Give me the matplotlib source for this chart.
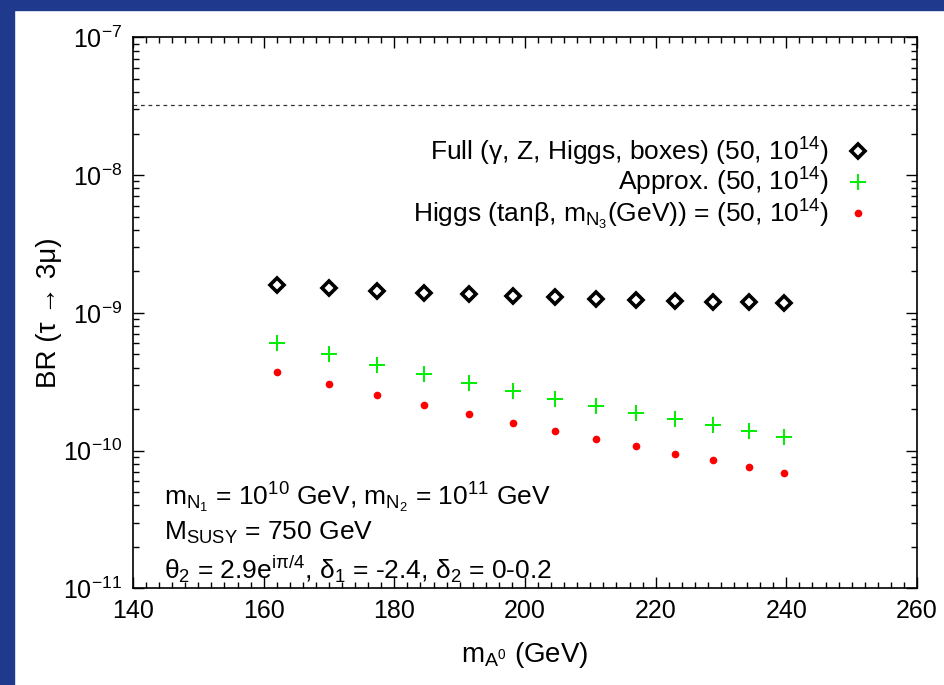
import matplotlib
matplotlib.use('Agg')
import matplotlib.pyplot as plt
from matplotlib.patches import Rectangle
from matplotlib.ticker import LogLocator, MultipleLocator, NullFormatter

# data
mA = [162.1, 170.0, 177.3, 184.5, 191.5, 198.2, 204.6, 210.9, 217.0, 222.9, 228.7, 234.3, 239.7]
br_full = [1.58e-9, 1.51e-9, 1.45e-9, 1.40e-9, 1.36e-9, 1.33e-9, 1.30e-9, 1.27e-9,
           1.245e-9, 1.225e-9, 1.205e-9, 1.19e-9, 1.17e-9]
br_approx = [6.0e-10, 5.0e-10, 4.2e-10, 3.58e-10, 3.08e-10, 2.69e-10, 2.38e-10, 2.1e-10,
             1.87e-10, 1.69e-10, 1.53e-10, 1.38e-10, 1.26e-10]
br_higgs = [3.72e-10, 3.04e-10, 2.54e-10, 2.14e-10, 1.83e-10, 1.58e-10, 1.38e-10, 1.21e-10,
            1.07e-10, 9.5e-11, 8.5e-11, 7.6e-11, 6.9e-11]
exp_bound = 3.2e-8

plt.rcParams['font.family'] = ['Liberation Sans', 'DejaVu Sans']
plt.rcParams['mathtext.fontset'] = 'custom'
plt.rcParams['mathtext.rm'] = 'Liberation Sans'
plt.rcParams['mathtext.it'] = 'Liberation Sans'
plt.rcParams['mathtext.default'] = 'regular'
plt.rcParams['axes.unicode_minus'] = False

fig = plt.figure(figsize=(9.44, 6.85), dpi=100)
ax = fig.add_axes([0.1409, 0.1412, 0.8305, 0.8043])

ax.plot(mA, br_full, 'D', ms=7.5, mfc='white', mec='black', mew=2.6,
        label=r'Full ($\gamma$, Z, Higgs, boxes) (50, 10$^{14}$)')
ax.plot(mA, br_approx, '+', ms=12, mec='#00ee00', mew=1.4,
        label=r'Approx. (50, 10$^{14}$)')
ax.plot(mA, br_higgs, 'o', ms=4.5, mfc='red', mec='red',
        label=r'Higgs (tan$\beta$, m$_{N_3}$(GeV)) = (50, 10$^{14}$)')
ax.axhline(exp_bound, color='#333333', lw=0.9, ls=(0, (3, 3)))

ax.set_yscale('log')
ax.set_xlim(140, 260)
ax.set_ylim(1e-11, 1e-7)
ax.xaxis.set_major_locator(MultipleLocator(20))
ax.xaxis.set_minor_locator(MultipleLocator(2))
ax.yaxis.set_major_locator(LogLocator(base=10, numticks=10))
ax.yaxis.set_minor_locator(LogLocator(base=10, subs=range(2, 10), numticks=20))
ax.yaxis.set_minor_formatter(NullFormatter())
ax.tick_params(which='both', direction='in', top=True, right=True, labelsize=18, pad=8)
ax.tick_params(which='major', length=8, width=1)
ax.tick_params(which='minor', length=4, width=1)
for s in ax.spines.values():
    s.set_linewidth(1.2)

ax.set_xlabel(r'm$_{A^0}$ (GeV)', fontsize=20, labelpad=12)
ax.set_ylabel('BR (τ → 3μ)', fontsize=20)
ax.yaxis.set_label_coords(-0.09, 0.5)

ax.legend(loc='upper right', bbox_to_anchor=(0.945, 0.822), markerfirst=False, frameon=False,
          fontsize=19, handlelength=1.2, handletextpad=0.5, labelspacing=-0.05,
          borderpad=0, borderaxespad=0)

ax.text(0.04, 0.15, r'm$_{N_1}$ = 10$^{10}$ GeV, m$_{N_2}$ = 10$^{11}$ GeV',
        transform=ax.transAxes, fontsize=19)
ax.text(0.04, 0.088, r'M$_{SUSY}$ = 750 GeV', transform=ax.transAxes, fontsize=19)
ax.text(0.04, 0.018, r'$\theta_2$ = 2.9e$^{i\pi/4}$, $\delta_1$ = -2.4, $\delta_2$ = 0-0.2',
        transform=ax.transAxes, fontsize=19)

# slide frame
blue = '#1f3a8c'
fig.patches.append(Rectangle((0, 0), 14 / 944, 1, transform=fig.transFigure, color=blue))
fig.patches.append(Rectangle((0, 1 - 10 / 685), 1, 10 / 685, transform=fig.transFigure, color=blue))

fig.savefig('out.png', dpi=100)
